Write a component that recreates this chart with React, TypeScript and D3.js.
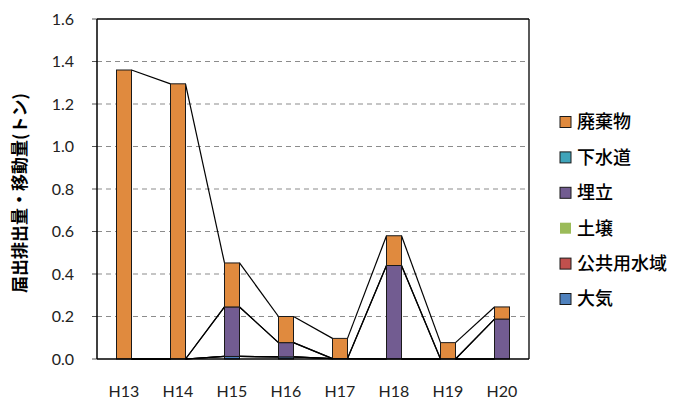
import React from "react";
import * as d3 from "d3";

const categories = ["H13", "H14", "H15", "H16", "H17", "H18", "H19", "H20"];
// stack order bottom -> top
const seriesNames = ["大気", "公共用水域", "土壌", "埋立", "下水道", "廃棄物"];
const taiki = [0, 0, 0.012, 0.01, 0.002, 0, 0, 0];
const koukyou = [0, 0, 0, 0, 0, 0, 0, 0];
const dojou = [0, 0, 0, 0, 0, 0, 0, 0];
const umetate = [0, 0, 0.233, 0.067, 0, 0.44, 0, 0.188];
const gesuidou = [0, 0, 0, 0, 0, 0, 0, 0];
const haikibutsu = [1.36, 1.295, 0.207, 0.123, 0.095, 0.14, 0.077, 0.057];
const seriesValues = [taiki, koukyou, dojou, umetate, gesuidou, haikibutsu];
const seriesColors = ["#4F81BD", "#C0504D", "#9BBB59", "#725C91", "#3FA4BA", "#E08A3E"];
const legendOrder = ["廃棄物", "下水道", "埋立", "土壌", "公共用水域", "大気"];
const yTicks = [0, 0.2, 0.4, 0.6, 0.8, 1.0, 1.2, 1.4, 1.6];
const yTitle = "届出排出量・移動量(トン)";

export default function App() {
  const W = 676, H = 400;
  const left = 97, right = 529, top = 19, bottom = 359;
  const x = d3.scaleBand<string>().domain(categories).range([left, right]);
  const y = d3.scaleLinear().domain([0, 1.6]).range([bottom, top]);
  const bw = 15;
  const rows = categories.map((c, i) => {
    const o: any = { cat: c };
    seriesNames.forEach((s, k) => (o[s] = seriesValues[k][i]));
    return o;
  });
  const stacked = d3.stack<any>().keys(seriesNames)(rows);
  const cx = (c: string) => (x(c) as number) + x.bandwidth() / 2;
  const numFont = "Lato, 'Noto Sans', sans-serif";
  const cjkFont = "'Noto Sans CJK JP', sans-serif";

  return (
    <svg width={W} height={H} style={{ position: "absolute", left: 0, top: 0 }}>
      <rect width={W} height={H} fill="#fff" />
      {/* gridlines */}
      {yTicks.filter((t) => t > 0 && t < 1.6).map((t) => (
        <line key={t} x1={left} x2={right} y1={y(t)} y2={y(t)} stroke="#8c8c8c" strokeWidth={1.2} strokeDasharray="5,4" />
      ))}
      {/* tick marks */}
      {yTicks.map((t) => (
        <line key={"tk" + t} x1={left - 5} x2={left} y1={y(t)} y2={y(t)} stroke="#555" strokeWidth={1} />
      ))}
      {/* series lines */}
      {stacked.map((layer, k) =>
        layer.slice(0, -1).map((d, i) => {
          const n = layer[i + 1];
          return (
            <line key={"sl" + k + "-" + i}
              x1={cx(categories[i]) + bw / 2} y1={y(d[1])}
              x2={cx(categories[i + 1]) - bw / 2} y2={y(n[1])}
              stroke="#000" strokeWidth={1.2} />
          );
        })
      )}
      {/* bars */}
      {stacked.map((layer, k) =>
        layer.map((d, i) => {
          const h = y(d[0]) - y(d[1]);
          if (h <= 0) return null;
          return (
            <rect key={"b" + k + "-" + i} x={cx(categories[i]) - bw / 2} y={y(d[1])} width={bw} height={h}
              fill={seriesColors[k]} stroke="#1a1a1a" strokeWidth={1} />
          );
        })
      )}
      {/* plot frame */}
      <line x1={left} x2={right} y1={top} y2={top} stroke="#000" strokeWidth={1.3} />
      <line x1={right} x2={right} y1={top} y2={bottom} stroke="#000" strokeWidth={1.3} />
      <line x1={left} x2={left} y1={top} y2={bottom} stroke="#000" strokeWidth={1.5} />
      <line x1={left} x2={right} y1={bottom} y2={bottom} stroke="#000" strokeWidth={1.5} />
      {/* y tick labels */}
      {yTicks.map((t) => (
        <text key={"yl" + t} x={74} y={y(t)} dy="0.36em" textAnchor="end" fontFamily={numFont} fontSize={16} fill="#222">
          {d3.format(".1f")(t)}
        </text>
      ))}
      {/* x labels */}
      {categories.map((c) => (
        <text key={"xl" + c} x={cx(c)} y={397} textAnchor="middle" fontFamily={numFont} fontSize={16} fill="#222">
          {c}
        </text>
      ))}
      {/* y title */}
      <text transform={`translate(26,${193}) rotate(-90)`} textAnchor="middle" fontFamily={cjkFont} fontWeight="bold" fontSize={17} fill="#000">
        {yTitle}
      </text>
      {/* legend */}
      {legendOrder.map((name, j) => {
        const k = seriesNames.indexOf(name);
        const ly = 122 + j * 35.4;
        return (
          <g key={"lg" + name}>
            <rect x={560} y={ly - 5.5} width={11} height={11} fill={seriesColors[k]} stroke={name === "土壌" ? "none" : "#1a1a1a"} strokeWidth={1} />
            <text x={577} y={ly} dy="0.36em" fontFamily={cjkFont} fontSize={18} fontWeight={500} fill="#000">
              {name}
            </text>
          </g>
        );
      })}
    </svg>
  );
}
